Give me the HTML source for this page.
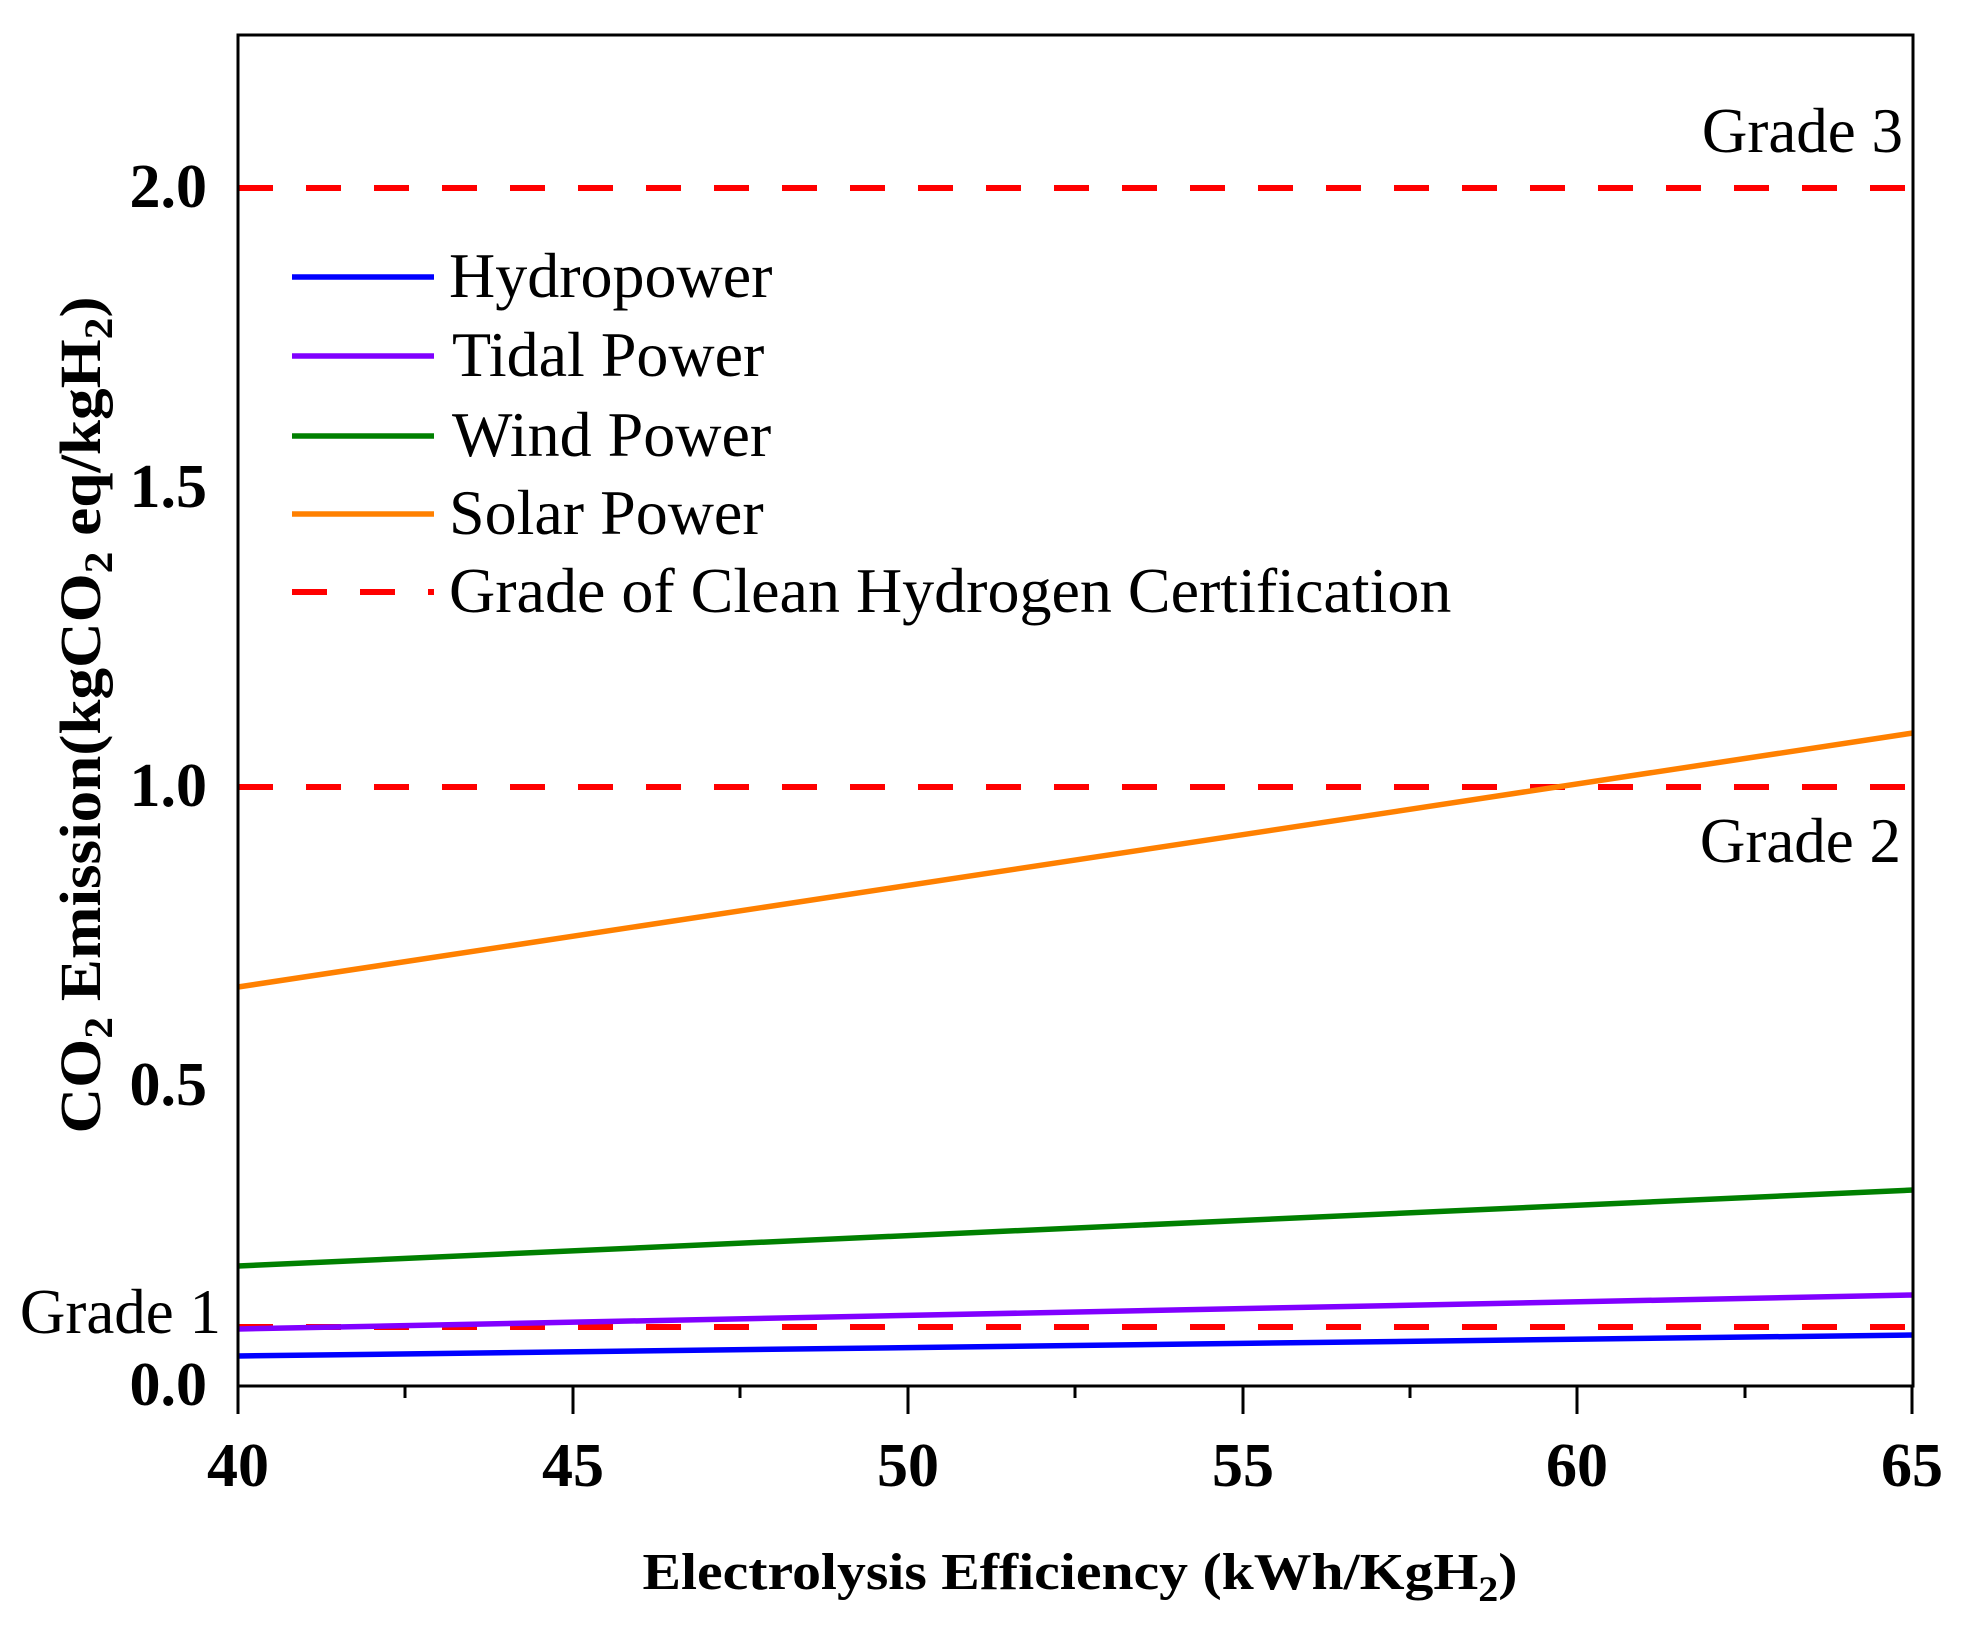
<!DOCTYPE html>
<html><head><meta charset="utf-8"><style>html,body{margin:0;padding:0;background:#fff}</style></head>
<body>
<svg width="1964" height="1631" viewBox="0 0 1964 1631" xmlns="http://www.w3.org/2000/svg" font-family="'Liberation Serif', serif">
<rect width="1964" height="1631" fill="#fff"/>
<g stroke="#ff0000" stroke-width="6" stroke-dasharray="35 33" fill="none">
<line x1="238" y1="188" x2="1912" y2="188"/>
<line x1="238" y1="787" x2="1912" y2="787"/>
<line x1="238" y1="1327" x2="1912" y2="1327"/>
</g>
<g stroke-width="5.5" fill="none">
<line x1="238" y1="1356" x2="1913" y2="1335" stroke="#0000ff"/>
<line x1="238" y1="1329" x2="1913" y2="1295" stroke="#8000ff"/>
<line x1="238" y1="1266" x2="1913" y2="1190" stroke="#008000"/>
<line x1="238" y1="987" x2="1913" y2="733" stroke="#ff8000"/>
</g>
<rect x="238" y="35" width="1675" height="1351" fill="none" stroke="#000" stroke-width="3"/>
<g stroke="#000" stroke-width="3">
<line x1="238" y1="1386" x2="238" y2="1414"/>
<line x1="573" y1="1386" x2="573" y2="1414"/>
<line x1="908" y1="1386" x2="908" y2="1414"/>
<line x1="1243" y1="1386" x2="1243" y2="1414"/>
<line x1="1577" y1="1386" x2="1577" y2="1414"/>
<line x1="1912" y1="1386" x2="1912" y2="1414"/>
<line x1="405" y1="1386" x2="405" y2="1398"/>
<line x1="740" y1="1386" x2="740" y2="1398"/>
<line x1="1075" y1="1386" x2="1075" y2="1398"/>
<line x1="1410" y1="1386" x2="1410" y2="1398"/>
<line x1="1745" y1="1386" x2="1745" y2="1398"/>
</g>
<g font-weight="bold" font-size="62" text-anchor="middle" fill="#000">
<text x="238" y="1486">40</text>
<text x="573" y="1486">45</text>
<text x="908" y="1486">50</text>
<text x="1243" y="1486">55</text>
<text x="1577" y="1486">60</text>
<text x="1912" y="1486">65</text>
</g>
<g font-weight="bold" font-size="62" text-anchor="end" fill="#000">
<text x="207" y="1405">0.0</text>
<text x="207" y="1105">0.5</text>
<text x="207" y="806">1.0</text>
<text x="207" y="507">1.5</text>
<text x="207" y="207">2.0</text>
</g>
<g font-size="63" fill="#000" text-anchor="end">
<text x="1903" y="152">Grade 3</text>
<text x="1901" y="862">Grade 2</text>
<text x="221" y="1333">Grade 1</text>
</g>
<g stroke-width="5.5">
<line x1="292" y1="277" x2="434" y2="277" stroke="#0000ff"/>
<line x1="292" y1="356" x2="434" y2="356" stroke="#8000ff"/>
<line x1="292" y1="436" x2="434" y2="436" stroke="#008000"/>
<line x1="292" y1="514" x2="434" y2="514" stroke="#ff8000"/>
<line x1="292" y1="592" x2="434" y2="592" stroke="#ff0000" stroke-width="6" stroke-dasharray="35 33"/>
</g>
<g font-size="64" fill="#000">
<text x="449" y="297">Hydropower</text>
<text x="452" y="376">Tidal Power</text>
<text x="452" y="456">Wind Power</text>
<text x="449" y="534">Solar Power</text>
<text x="449" y="612">Grade of Clean Hydrogen Certification</text>
</g>
<text x="1080" y="1589" text-anchor="middle" font-weight="bold" font-size="52" fill="#000" textLength="875" lengthAdjust="spacingAndGlyphs">Electrolysis Efficiency (kWh/KgH<tspan font-size="36" dy="12">2</tspan><tspan dy="-12">)</tspan></text>
<text transform="translate(100,715) rotate(-90)" text-anchor="middle" font-weight="bold" font-size="58" fill="#000" textLength="837" lengthAdjust="spacingAndGlyphs">CO<tspan font-size="40" dy="12">2</tspan><tspan dy="-12"> Emission(kgCO</tspan><tspan font-size="40" dy="12">2</tspan><tspan dy="-12"> eq/kgH</tspan><tspan font-size="40" dy="12">2</tspan><tspan dy="-12">)</tspan></text>
</svg>
</body></html>
